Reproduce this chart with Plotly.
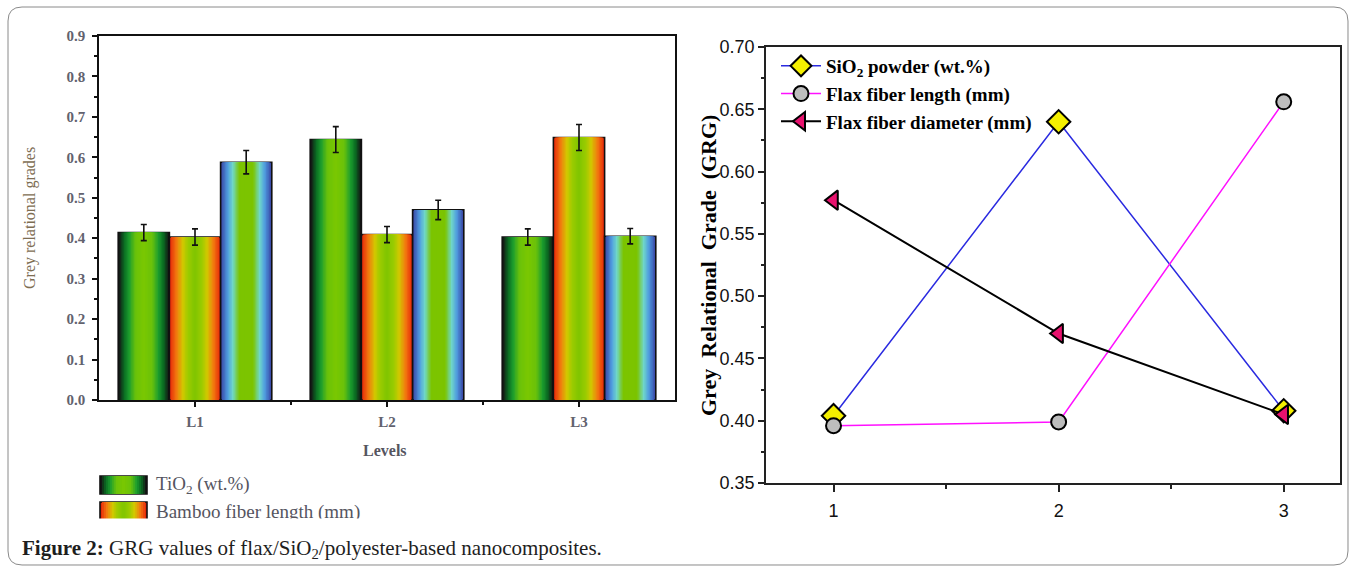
import plotly.graph_objects as go

W, H = 1356, 570

# ---------------- data ----------------
levels = ["L1", "L2", "L3"]
bar_names = ["TiO<sub>2</sub> (wt.%)", "Bamboo fiber length (mm)", "Bamboo fiber diameter (mm)"]
tio2 = [0.414, 0.644, 0.403]
bamboo_len = [0.403, 0.409, 0.649]
bamboo_dia = [0.588, 0.470, 0.405]
tio2_err = [0.020, 0.032, 0.020]
bamboo_len_err = [0.020, 0.020, 0.032]
bamboo_dia_err = [0.029, 0.024, 0.019]

line_x = [1, 2, 3]
sio2 = [0.404, 0.640, 0.408]
flax_len = [0.396, 0.399, 0.656]
flax_dia = [0.577, 0.470, 0.405]
line_names = ["<b>SiO<sub>2</sub> powder (wt.%)</b>", "<b>Flax fiber length (mm)</b>",
              "<b>Flax fiber diameter (mm)</b>"]

# gradient stops: (distance from bar centre 0..1, colour)
tio2_stops = [(0, "#7cc800"), (0.35, "#6ac20a"), (0.6, "#1c9e2e"), (0.8, "#0a6a22"), (1, "#151515")]
len_stops = [(0, "#7cc400"), (0.3, "#9ccc00"), (0.5, "#d2c800"), (0.75, "#f27a10"), (1, "#e62a0a")]
dia_stops = [(0, "#7cc400"), (0.3, "#7cc400"), (0.55, "#70d8c8"), (0.75, "#4f9ee0"), (1, "#3a48a6")]


def hex2rgb(h):
    h = h.lstrip("#")
    return [int(h[i:i + 2], 16) for i in (0, 2, 4)]


def interp(stops, d):
    for (d0, c0), (d1, c1) in zip(stops[:-1], stops[1:]):
        if d0 <= d <= d1:
            t = 0 if d1 == d0 else (d - d0) / (d1 - d0)
            a, b = hex2rgb(c0), hex2rgb(c1)
            return "rgb(%d,%d,%d)" % tuple(round(a[i] + (b[i] - a[i]) * t) for i in range(3))
    return stops[-1][1]


def px(x):
    return x / W


def py(y):
    return 1 - y / H


fig = go.Figure()

# ---------------- left: gradient grouped bars ----------------
series = [(tio2, tio2_err, tio2_stops), (bamboo_len, bamboo_len_err, len_stops),
          (bamboo_dia, bamboo_dia_err, dia_stops)]
nser = len(series)
group_w = 0.8
bw = group_w / nser
K = 18
for s, (vals, errs, stops) in enumerate(series):
    xs = [i - group_w / 2 + bw * (s + 0.5) for i in range(len(levels))]
    for k in range(K):
        d = 1 - k / K
        fig.add_trace(go.Bar(
            x=xs, y=vals, width=bw * d, xaxis="x", yaxis="y",
            marker=dict(color=interp(stops, d),
                        line=dict(color="#111111", width=1.6 if k == 0 else 0)),
            showlegend=False, hoverinfo="skip", name=bar_names[s]))
    fig.add_trace(go.Scatter(
        x=xs, y=vals, mode="markers", xaxis="x", yaxis="y",
        marker=dict(size=1, opacity=0),
        error_y=dict(type="data", array=errs, color="#111111", thickness=1.6, width=3),
        showlegend=False, hoverinfo="skip", name=bar_names[s]))

# ---------------- right: line chart ----------------
fig.add_trace(go.Scatter(
    x=line_x, y=sio2, name=line_names[0], mode="lines+markers", xaxis="x2", yaxis="y2",
    line=dict(color="#2a2ae0", width=1.5),
    marker=dict(symbol="diamond", size=18, color="#f4ef00", line=dict(color="#000", width=2))))
fig.add_trace(go.Scatter(
    x=line_x, y=flax_len, name=line_names[1], mode="lines+markers", xaxis="x2", yaxis="y2",
    line=dict(color="#ff10ff", width=1.5),
    marker=dict(symbol="circle", size=15, color="#bdbdbd", line=dict(color="#000", width=2))))
fig.add_trace(go.Scatter(
    x=line_x, y=flax_dia, name=line_names[2], mode="lines+markers", xaxis="x2", yaxis="y2",
    line=dict(color="#000000", width=2),
    marker=dict(symbol="triangle-left", size=17, color="#e8126e", line=dict(color="#000", width=2))))

serif = "Liberation Serif"
left_tick_font = dict(family=serif, size=15, color="#62626e", weight="bold")
left_text = "#55555f"

shapes = []
annotations = []

# rounded frame
x0, y0, x1, y1, r = 8, 7, 1348, 565, 14
path = ("M %f,%f L %f,%f Q %f,%f %f,%f L %f,%f Q %f,%f %f,%f L %f,%f Q %f,%f %f,%f L %f,%f Q %f,%f %f,%f Z" % (
    px(x0 + r), py(y0), px(x1 - r), py(y0), px(x1), py(y0), px(x1), py(y0 + r),
    px(x1), py(y1 - r), px(x1), py(y1), px(x1 - r), py(y1),
    px(x0 + r), py(y1), px(x0), py(y1), px(x0), py(y1 - r),
    px(x0), py(y0 + r), px(x0), py(y0), px(x0 + r), py(y0)))
shapes.append(dict(type="path", xref="paper", yref="paper", path=path,
                   line=dict(color="#8a8a8a", width=1), layer="below"))


# manual legend for the bar chart (gradient swatches)
def swatch(xa, xb, ya, yb, stops):
    n = 12
    cx = (xa + xb) / 2
    half = (xb - xa) / 2
    for k in range(n):
        d = 1 - k / n
        shapes.append(dict(type="rect", xref="paper", yref="paper",
                           x0=px(cx - half * d), x1=px(cx + half * d), y0=py(yb), y1=py(ya),
                           fillcolor=interp(stops, d),
                           line=dict(color="#111111", width=1.6 if k == 0 else 0)))


swatch(100, 147, 476, 494, tio2_stops)
swatch(100, 147, 502, 520, len_stops)
annotations.append(dict(xref="paper", yref="paper", x=px(154), y=py(485), xanchor="left", yanchor="middle",
                        text=bar_names[0], showarrow=False, font=dict(family=serif, size=19, color=left_text)))
annotations.append(dict(xref="paper", yref="paper", x=px(154), y=py(512), xanchor="left", yanchor="middle",
                        text=bar_names[1], showarrow=False, font=dict(family=serif, size=19, color=left_text)))
# page cut below the legend
annotations.append(dict(xref="paper", yref="paper", x=px(95), y=py(518), xanchor="left", yanchor="top",
                        text="&#8203;", showarrow=False, bgcolor="#ffffff", width=330, height=14, borderpad=0))

# axis titles
annotations.append(dict(xref="paper", yref="paper", x=px(30), y=py(218), xanchor="center", yanchor="middle",
                        text="Grey relational grades", textangle=-90, showarrow=False,
                        font=dict(family=serif, size=16, color="#7d6d52")))
annotations.append(dict(xref="paper", yref="paper", x=px(385), y=py(450), xanchor="center", yanchor="middle",
                        text="<b>Levels</b>", showarrow=False, font=dict(family=serif, size=16, color=left_text)))
annotations.append(dict(xref="paper", yref="paper", x=px(708), y=py(266), xanchor="center", yanchor="middle",
                        text="<b>Grey  Relational  Grade  (GRG)</b>",
                        textangle=-90, showarrow=False, font=dict(family=serif, size=22, color="#000")))
# caption
annotations.append(dict(xref="paper", yref="paper", x=px(20), y=py(549), xanchor="left", yanchor="middle",
                        text="<b>Figure 2:</b> GRG values of flax/SiO<sub>2</sub>/polyester-based nanocomposites.",
                        showarrow=False, font=dict(family=serif, size=21, color="#1e1e1e")))

fig.update_layout(
    width=W, height=H, margin=dict(l=0, r=0, t=0, b=0, autoexpand=False),
    paper_bgcolor="#ffffff", plot_bgcolor="#ffffff",
    barmode="overlay", showlegend=True,
    xaxis=dict(domain=[px(99), px(675)], range=[-0.5, 2.5], tickvals=[0, 1, 2], ticktext=levels,
               showline=True, linecolor="#111", linewidth=1.6, mirror=True, showgrid=False, zeroline=False,
               ticks="outside", ticklen=5, tickwidth=1.5, tickcolor="#111", ticklabelstandoff=2,
               minor=dict(tickvals=[0.5, 1.5], ticks="outside", ticklen=3, tickcolor="#111"),
               tickfont=left_tick_font, anchor="y", automargin=False),
    yaxis=dict(domain=[py(400), py(36)], range=[0, 0.9], dtick=0.1, tickformat=".1f",
               showline=True, linecolor="#111", linewidth=1.6, mirror=True, showgrid=False, zeroline=False,
               ticks="outside", ticklen=5, tickwidth=1.5, tickcolor="#111", ticklabelstandoff=4,
               minor=dict(dtick=0.05, tick0=0, ticks="outside", ticklen=3, tickcolor="#111"),
               tickfont=left_tick_font, anchor="x", automargin=False),
    xaxis2=dict(domain=[px(766), px(1340)], range=[0.7, 3.25], tickvals=[1, 2, 3],
                showline=True, linecolor="#222", linewidth=1.5, mirror=True, showgrid=False, zeroline=False,
                ticks="outside", ticklen=7, tickwidth=1.5, tickcolor="#222", ticklabelstandoff=4,
                minor=dict(tickvals=[1.5, 2.5], ticks="outside", ticklen=4, tickcolor="#222"),
                tickfont=dict(family="Liberation Sans", size=18, color="#111"), anchor="y2", automargin=False),
    yaxis2=dict(domain=[py(483), py(47)], range=[0.35, 0.70], dtick=0.05, tickformat=".2f",
                showline=True, linecolor="#222", linewidth=1.5, mirror=True, showgrid=False, zeroline=False,
                ticks="outside", ticklen=6, tickwidth=1.5, tickcolor="#222",
                minor=dict(dtick=0.025, tick0=0.35, ticks="outside", ticklen=3, tickcolor="#222"),
                tickfont=dict(family="Liberation Sans", size=18, color="#111"), anchor="x2", automargin=False),
    legend=dict(x=px(776), y=py(47), xanchor="left", yanchor="top", bgcolor="rgba(0,0,0,0)",
                font=dict(family=serif, size=19, color="#000"), tracegroupgap=0, itemwidth=40),
    shapes=shapes, annotations=annotations,
)

fig.write_html("out.html", config={"displayModeBar": False},
               post_script="document.body.style.margin='0';document.body.style.overflow='hidden';")
